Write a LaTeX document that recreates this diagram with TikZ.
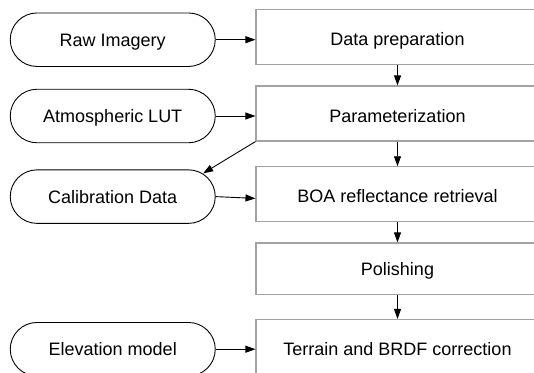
\documentclass[tikz,border=0pt]{standalone}
\usepackage{fontspec}
\setmainfont{Liberation Sans}
\usetikzlibrary{shapes.misc,arrows.meta,calc}

\definecolor{boxline}{HTML}{A3A3A3}

\tikzset{
  source/.style={rounded rectangle, draw=black, line width=0.9bp,
    minimum width=205bp, minimum height=53.5bp, inner sep=0pt,
    text height=13bp, text depth=0bp,
    font=\fontsize{18bp}{20bp}\selectfont},
  stage/.style={rectangle, draw=boxline, line width=1.1bp,
    minimum width=283bp, minimum height=55bp, inner sep=0pt,
    text height=17bp, text depth=0bp,
    font=\fontsize{18bp}{20bp}\selectfont},
  flow/.style={line width=0.9bp, -{Triangle[length=10bp,width=7bp]}}
}

\begin{document}
\begin{tikzpicture}[x=1bp, y=-1bp]
  \useasboundingbox (0,0) rectangle (534,372);
  \clip (0,0) rectangle (534,372);

  % processing stages
  \node[stage] (b1) at (397.5,37.3)  {Data preparation};
  \node[stage] (b2) at (397.5,113.5) {Parameterization};
  \node[stage] (b3) at (397.5,194.3) {BOA reflectance retrieval};
  \node[stage, minimum height=51.5bp, text height=13bp] (b4) at (397.5,268.7) {Polishing};
  \node[stage] (b5) at (397.5,347) {Terrain and BRDF correction};

  % inputs
  \node[source] (e1) at (112.75,39.7)  {Raw Imagery};
  \node[source] (e2) at (112.75,116)   {Atmospheric LUT};
  \node[source] (e3) at (112.75,196.6) {Calibration Data};
  \node[source] (e4) at (112.75,349.2) {Elevation model};

  % main chain
  \draw[flow] (b1) -- (b2);
  \draw[flow] (b2) -- (b3);
  \draw[flow] (b3) -- (b4);
  \draw[flow] (b4) -- (b5);

  % inputs into the stages
  \draw[flow] (e1.east) -- (e1.east -| b1.west);
  \draw[flow] (e2.east) -- (e2.east -| b2.west);
  \draw[flow] (e3.east) -- ([yshift=-1.8bp]e3.east -| b3.west);
  \draw[flow] (e4.east) -- (e4.east -| b5.west);

  % feedback to calibration data
  \coordinate (e3top) at ($(e3.east)+(-12.55,-23.3)$);
  \draw[flow] (b2.south west) -- (e3top);
\end{tikzpicture}
\end{document}
